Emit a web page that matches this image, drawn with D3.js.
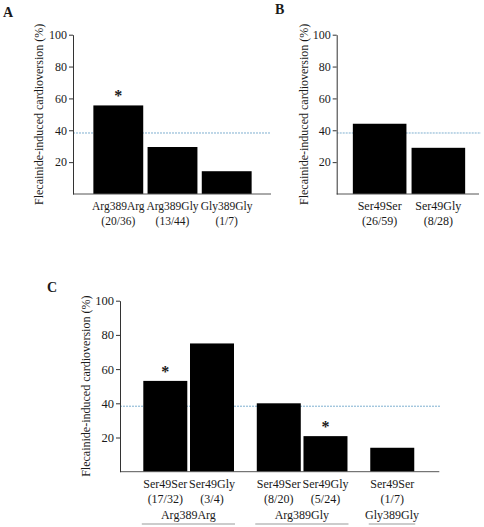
<!DOCTYPE html>
<html><head><meta charset="utf-8">
<script src="https://cdn.jsdelivr.net/npm/d3@7"></script>
<style>
body{margin:0;background:#fff;}
svg{display:block;}
svg text{font-family:"Liberation Serif","Times New Roman","DejaVu Serif",serif !important;}
</style></head>
<body><svg id="c" width="484" height="527" font-family="Liberation Serif, Times New Roman, serif"></svg>
<script>
// ---- data ----
const catsA = ["Arg389Arg","Arg389Gly","Gly389Gly"];
const countsA = ["(20/36)","(13/44)","(1/7)"];
const valsA = [55.6, 29.5, 14.3];
const starA = [true,false,false];

const catsB = ["Ser49Ser","Ser49Gly"];
const countsB = ["(26/59)","(8/28)"];
const valsB = [44.1, 29.0];

const catsC = ["Ser49Ser","Ser49Gly","Ser49Ser","Ser49Gly","Ser49Ser"];
const countsC = ["(17/32)","(3/4)","(8/20)","(5/24)","(1/7)"];
const groupsC = ["Arg389Arg","Arg389Arg","Arg389Gly","Arg389Gly","Gly389Gly"];
const valsC = [53.1, 75.0, 40.0, 20.8, 14.0];
const starC = [true,false,false,true,false];

const groupNames = ["Arg389Arg","Arg389Gly","Gly389Gly"];
const refLine = 38.3;
const yTicks = [20,40,60,80,100];
const yTitle = "Flecainide-induced cardioversion (%)";

const svg = d3.select("#c");
const TXT = "#1a1a1a";
const FONT = "Liberation Serif, Times New Roman, serif";

function yAxis(g, y, axisX, fs){
  const ax = g.append("g").attr("transform",`translate(${axisX},0)`)
    .call(d3.axisLeft(y).tickValues(yTicks).tickSizeInner(4).tickSizeOuter(0).tickPadding(2));
  ax.attr("font-family",FONT);
  ax.select(".domain").attr("stroke","#333");
  ax.selectAll(".tick line").attr("stroke","#333");
  ax.selectAll(".tick text").attr("font-family",FONT).attr("font-size",fs).attr("fill",TXT);
}

function panel(opt){
  const g = svg.append("g").attr("font-family",FONT);
  const y = d3.scaleLinear().domain([0,100]).range([opt.base, opt.top]);
  g.append("line").attr("x1",opt.axisX).attr("x2",opt.dashEnd)
    .attr("y1",y(refLine)).attr("y2",y(refLine))
    .attr("stroke","#7fb0d0").attr("stroke-width",1).attr("stroke-dasharray","2,1");
  g.selectAll("rect.bar").data(opt.vals).join("rect").attr("class","bar")
    .attr("x",(d,i)=>opt.xPos(i)).attr("width",opt.bw)
    .attr("y",d=>y(d)).attr("height",d=>y(0)-y(d)).attr("fill","#000");
  opt.stars.forEach((s,i)=>{ if(s){
    g.append("text").attr("x",opt.xPos(i)+opt.bw/2).attr("y",y(opt.vals[i])-4)
      .attr("text-anchor","middle").attr("font-size",16).attr("font-weight","bold").attr("fill",TXT).text("*");
  }});
  g.append("line").attr("x1",opt.axisX).attr("x2",opt.baseEnd).attr("y1",y(0)).attr("y2",y(0))
    .attr("stroke","#555").attr("stroke-width",1);
  yAxis(g, y, opt.axisX, opt.tickFs);
  opt.cats.forEach((c,i)=>{
    const cx = opt.xPos(i)+opt.bw/2;
    g.append("text").attr("x",cx).attr("y",opt.row1).attr("text-anchor","middle")
      .attr("font-size",opt.labFs).attr("fill",TXT).text(c);
    g.append("text").attr("x",cx).attr("y",opt.row1+opt.rowGap).attr("text-anchor","middle")
      .attr("font-size",opt.labFs).attr("fill",TXT).text(opt.counts[i]);
  });
  g.append("text").attr("transform",`translate(${opt.titleX},${(opt.top+opt.base)/2}) rotate(-90)`)
    .attr("text-anchor","middle").attr("dy","0.35em").attr("font-size",opt.titleFs).attr("fill",TXT).text(yTitle);
  g.append("text").attr("x",opt.letterX).attr("y",opt.letterY).attr("font-size",14)
    .attr("font-weight","bold").attr("fill",TXT).text(opt.letter);
  return g;
}

// Panel A
const xA = d3.scaleBand().domain(catsA).range([91.2,253.8]).paddingInner(0.08).paddingOuter(0.04);
panel({vals:valsA,cats:catsA,counts:countsA,stars:starA,
  xPos:i=>xA(catsA[i]), bw:xA.bandwidth(),
  axisX:73, top:34.7, base:194, baseEnd:271, dashEnd:271,
  row1:209.5, rowGap:15, labFs:11.5, tickFs:12, titleFs:12, titleX:39,
  letter:"A", letterX:3, letterY:17});

// Panel B
const xB = d3.scaleBand().domain(catsB).range([350.2,467.8]).paddingInner(0.087).paddingOuter(0.045);
panel({vals:valsB,cats:catsB,counts:countsB,stars:[false,false],
  xPos:i=>xB(catsB[i]), bw:xB.bandwidth(),
  axisX:336.7, top:34.7, base:194, baseEnd:479, dashEnd:481,
  row1:209.5, rowGap:15, labFs:12, tickFs:12, titleFs:12, titleX:303.3,
  letter:"B", letterX:275, letterY:14});

// Panel C
const slotC = catsC.map((c,i)=> i + groupNames.indexOf(groupsC[i])*0.43);
const xC = d3.scaleLinear().domain([0,1]).range([143.3,190]);
const bwC = 44;
const gC = panel({vals:valsC,cats:catsC,counts:countsC,stars:starC,
  xPos:i=>xC(slotC[i]), bw:bwC,
  axisX:120, top:300.7, base:471.7, baseEnd:439.3, dashEnd:440,
  row1:487.5, rowGap:15, labFs:12, tickFs:12.5, titleFs:12, titleX:85.7,
  letter:"C", letterX:47, letterY:292});
groupNames.forEach(gn=>{
  const idx = groupsC.map((g,i)=>g===gn?i:-1).filter(i=>i>=0);
  const x0 = xC(slotC[idx[0]]) - 1.5, x1 = xC(slotC[idx[idx.length-1]]) + bwC + 1;
  gC.append("text").attr("x",(x0+x1)/2).attr("y",518.5).attr("text-anchor","middle")
    .attr("font-size",12).attr("fill",TXT).text(gn);
  gC.append("line").attr("x1",x0).attr("x2",x1).attr("y1",524).attr("y2",524)
    .attr("stroke","#999").attr("stroke-width",1);
});
</script></body></html>
